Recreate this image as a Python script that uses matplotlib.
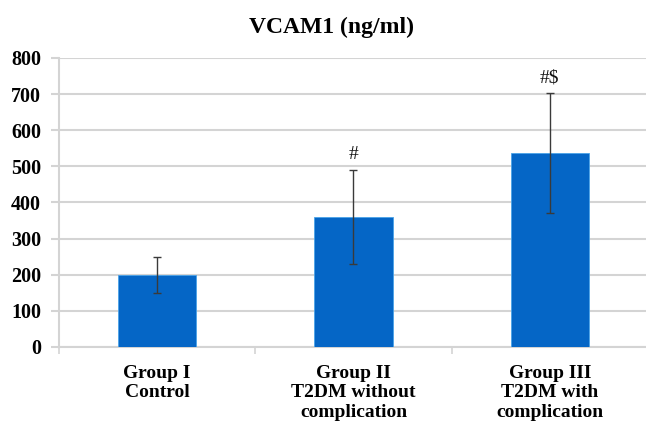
import matplotlib as mpl
import matplotlib.pyplot as plt

mpl.rcParams.update({"font.family": "Liberation Serif", "font.weight": "bold"})

groups = ["Group I\nControl", "Group II\nT2DM without\ncomplication",
          "Group III\nT2DM with\ncomplication"]
means = [200, 361, 537]
errs = [50, 130, 165]
marks = ["", "#", "#$"]
yticks = [0, 100, 200, 300, 400, 500, 600, 700, 800]

GRID = "#d4d4d4"
BLUE = "#0566C6"

fig = plt.figure(figsize=(6.46, 4.23), dpi=100)
ax = fig.add_axes([0.0913, 0.1797, 0.9117, 0.6833])

x = list(range(len(groups)))
ax.bar(x, means, width=0.40, color=BLUE, edgecolor="#4aa3e8", linewidth=0.6, zorder=3)
ax.errorbar(x, means, yerr=errs, fmt="none", ecolor="#3a3a3a", elinewidth=1.0,
            capsize=3, capthick=1.0, zorder=4)
for xi, m, e, s in zip(x, means, errs, marks):
    if s:
        ax.text(xi, m + e + 18, s, ha="center", va="bottom", fontsize=14,
                fontweight="normal", color="#111111")

ax.set_ylim(0, 800)
ax.set_xlim(-0.5, 2.5)
ax.set_yticks(yticks)
ax.set_yticklabels([str(t) for t in yticks], fontsize=14.5, fontweight="bold")
ax.yaxis.grid(True, color=GRID, lw=1.5, zorder=0)
ax.set_axisbelow(True)

ax.set_xticks([-0.5, 0.5, 1.5, 2.5])
ax.set_xticklabels([])
ax.set_xticks(x, minor=True)
ax.set_xticklabels(groups, minor=True, fontsize=14, fontweight="bold", linespacing=1.18)
ax.tick_params(axis="x", which="minor", length=0, pad=13)
ax.tick_params(axis="x", which="major", length=5, color=GRID, width=1.2)
ax.tick_params(axis="y", length=6, color=GRID, width=1.5, pad=7)

for s in ["top", "right"]:
    ax.spines[s].set_visible(False)
for s in ["left", "bottom"]:
    ax.spines[s].set_color(GRID)
    ax.spines[s].set_linewidth(1.5)

fig.text(0.513, 0.935, "VCAM1 (ng/ml)", ha="center", va="center",
         fontsize=17, fontweight="bold")

fig.savefig("out.png", dpi=100, facecolor="white")
